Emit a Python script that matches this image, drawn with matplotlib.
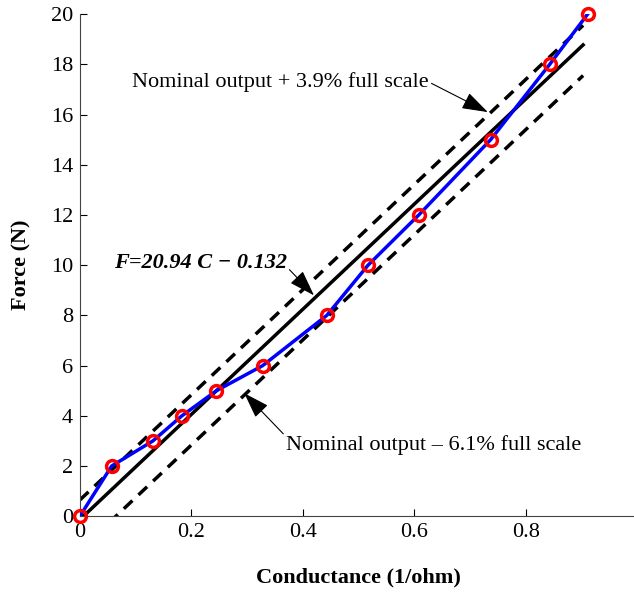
import numpy as np
import matplotlib.pyplot as plt

# datos medidos
conductance = [0.0, 0.057, 0.131, 0.183, 0.245, 0.328, 0.443, 0.517, 0.608, 0.737, 0.843, 0.911]
force = [0, 2, 3, 4, 5, 6, 8, 10, 12, 15, 18, 20]

# ajuste lineal y bandas
slope = 20.94
intercept = -0.132
upper_offset = 0.039 * 20
lower_offset = -0.061 * 20
fit_range = [0.0, 0.903]

x_ticks = [0, 0.2, 0.4, 0.6, 0.8]
y_ticks = [0, 2, 4, 6, 8, 10, 12, 14, 16, 18, 20]

plt.rcParams['font.family'] = ['Liberation Serif', 'DejaVu Serif']

fig = plt.figure(figsize=(6.34, 5.92), dpi=100)
ax = fig.add_axes([0.126, 0.128, 0.879, 0.848])

cx = np.array(fit_range)
fit = slope * cx + intercept
ax.plot(cx, fit, color='black', lw=2.5, zorder=2)
ax.plot(cx, fit + upper_offset, color='black', lw=2.5, ls=(0, (3.4, 2.4)), zorder=2)
ax.plot(cx, fit + lower_offset, color='black', lw=2.5, ls=(0, (3.4, 2.4)), zorder=2)

ax.plot(conductance, force, color='blue', lw=2.5, zorder=3)
ax.plot(conductance, force, ls='none', marker='o', ms=8.5, mfc='none',
        mec='red', mew=2.5, zorder=4, clip_on=False)

ax.set_xlim(0, 1.0)
ax.set_ylim(0, 20)
ax.set_xticks(x_ticks)
ax.set_xticklabels(['0', '0.2', '0.4', '0.6', '0.8'])
ax.set_yticks(y_ticks)
ax.tick_params(direction='in', length=5, labelsize=16, width=0.8, pad=5)
ax.spines['top'].set_visible(False)
ax.spines['right'].set_visible(False)
for s in ['left', 'bottom']:
    ax.spines[s].set_color('#444444')

ax.set_xlabel('Conductance (1/ohm)', fontsize=16, fontweight='bold', labelpad=18)
ax.set_ylabel('Force (N)', fontsize=16, fontweight='bold', labelpad=14)


def flecha(rel):
    return dict(arrowstyle='-|>,head_length=0.9,head_width=0.3', color='black',
                lw=0.8, mutation_scale=18, shrinkA=0, shrinkB=0, relpos=rel)


ax.annotate('Nominal output + 3.9% full scale', xy=(0.732, 16.1), xytext=(0.626, 17.3),
            fontsize=16, ha='right', va='center', arrowprops=flecha((1.0, 0.5)))
ax.annotate('F=20.94 C \u2212 0.132', xy=(0.42, 8.8), xytext=(0.371, 10.1),
            fontsize=16, fontweight='bold', fontstyle='italic', ha='right', va='center',
            arrowprops=flecha((1.0, 0.3)))
ax.annotate('Nominal output \u2013 6.1% full scale', xy=(0.295, 4.9), xytext=(0.37, 2.85),
            fontsize=16, ha='left', va='center', arrowprops=flecha((0.0, 0.9)))

fig.savefig('out.png', dpi=100)
